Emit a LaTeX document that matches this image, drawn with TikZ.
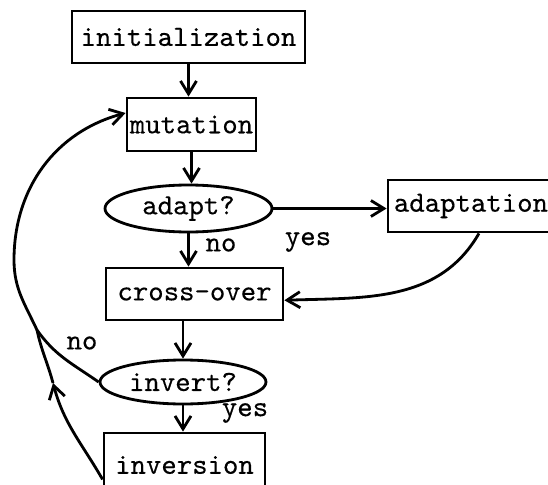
\documentclass[tikz,border=0pt]{standalone}
\usepackage{fontspec}
\usetikzlibrary{arrows.meta,shapes.geometric}
\newfontfamily\flowfont{lmmono10-regular}[Extension=.otf,FakeBold=0.3]
\tikzset{
  stepbox/.style={draw,line width=1.6pt,inner sep=0pt,font=\fontsize{16.7}{20}\flowfont},
  query/.style={ellipse,draw,line width=1.6pt,inner sep=0pt,font=\fontsize{16.7}{20}\flowfont},
  answer/.style={inner sep=1pt,font=\fontsize{16.7}{20}\flowfont},
  flow/.style={line width=1.6pt,-{Straight Barb[length=2.6mm,width=3.2mm,line width=1.6pt]}}
}
\begin{document}
\begin{tikzpicture}
\useasboundingbox (0,0) rectangle (10.96,-9.7);
\node[stepbox,minimum width=4.66cm,minimum height=1.04cm] (init) at (3.77,-0.74) {initialization};
\node[stepbox,minimum width=2.58cm,minimum height=1.06cm] (mut) at (3.83,-2.49) {mutation};
\node[query,minimum width=3.34cm,minimum height=0.94cm] (adapt) at (3.77,-4.17) {adapt?};
\node[stepbox,minimum width=3.24cm,minimum height=1.04cm,text width=3.16cm,align=right] (adaptation) at (9.38,-4.12) {adaptation};
\node[stepbox,minimum width=3.54cm,minimum height=1.04cm] (cross) at (3.89,-5.88) {cross-over};
\node[query,minimum width=3.32cm,minimum height=0.88cm] (invert) at (3.66,-7.64) {invert?};
\node[stepbox,minimum width=3.22cm,minimum height=1.28cm] (inversion) at (3.69,-9.3) {inversion};
\node[answer] (noadapt) at (4.42,-4.9) {no};
\node[answer] (yesadapt) at (6.16,-4.84) {yes};
\node[answer] (noinvert) at (1.64,-6.86) {no};
\node[answer] (yesinvert) at (4.9,-8.26) {yes};
\coordinate (merge) at (0.74,-6.6);
\coordinate (leftpt) at (0.28,-5.2);
\coordinate (invtip) at (1.06,-7.66);
\draw[flow] (init.south) -- (init.south |- mut.north);
\draw[flow] (mut.south) -- (mut.south |- adapt.north);
\draw[flow] (adapt.south) -- (adapt.south |- cross.north);
\draw[flow] (cross.south -| invert.north) -- (invert.north);
\draw[flow] (invert.south) -- (invert.south |- inversion.north);
\draw[flow] (adapt.east) -- (adapt.east -| adaptation.west);
\draw[flow] (adaptation.-70) to[out=-120,in=2] (cross.-4);
\draw[flow] (invert.west) to[out=145,in=-55] (merge) to[out=115,in=-90] (leftpt) to[out=90,in=-165] (mut.west |- 0,-2.26);
\draw[flow] (inversion.190) to[out=120,in=-75] (invtip);
\draw[line width=1.6pt] (invtip) to[out=105,in=-78] (merge);
\end{tikzpicture}
\end{document}
